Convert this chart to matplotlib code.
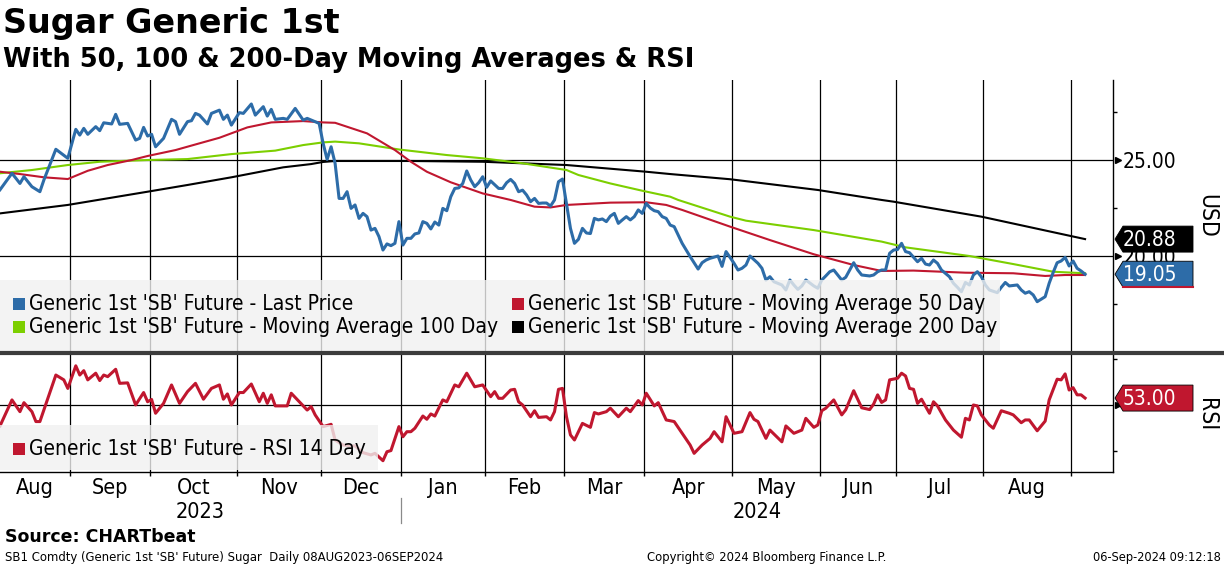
import matplotlib
matplotlib.use("Agg")
import matplotlib.pyplot as plt
import matplotlib.transforms as mtransforms
from matplotlib.patches import Polygon, Rectangle
import pandas as pd

# ---- trading calendar (exchange holidays dropped, like the terminal does)
start_date = "2023-08-08"
end_date = "2024-09-06"
holidays = ["2023-09-04", "2023-11-23", "2023-12-25", "2024-01-01", "2024-01-15",
            "2024-02-19", "2024-03-29", "2024-05-27", "2024-06-19", "2024-07-04",
            "2024-09-02"]

# ---- series (trading day number -> value)
price_day = [0, 3, 5, 6, 8, 10, 11, 14, 17, 19, 20, 21, 22, 24, 25, 26, 28, 29, 30, 32,
             34, 35, 36, 37, 38, 39, 41, 43, 44, 45, 47, 48, 49, 50, 52, 53, 55, 56, 57, 58,
             60, 61, 63, 64, 66, 67, 68, 69, 71, 72, 74, 76, 77, 80, 81, 82, 83, 84, 85, 86,
             87, 88, 89, 90, 91, 92, 93, 94, 95, 96, 97, 98, 99, 100, 101, 102, 103, 104, 105, 106,
             107, 108, 109, 110, 111, 112, 113, 114, 115, 116, 117, 118, 119, 120, 121, 122, 123, 125, 126, 127,
             128, 129, 130, 131, 132, 133, 134, 135, 136, 137, 138, 139, 140, 141, 142, 143, 144, 145, 146, 147,
             148, 149, 150, 151, 152, 153, 154, 155, 156, 157, 158, 159, 160, 161, 162, 163, 164, 165, 166, 167,
             168, 169, 170, 171, 173, 175, 176, 177, 178, 180, 181, 182, 184, 185, 186, 187, 188, 190, 191, 192,
             193, 194, 196, 197, 198, 199, 200, 201, 202, 204, 205, 206, 207, 208, 209, 210, 211, 212, 213, 214,
             215, 216, 218, 219, 220, 221, 222, 223, 224, 225, 226, 227, 228, 230, 231, 232, 233, 234, 235, 236,
             238, 239, 240, 241, 242, 243, 244, 245, 246, 247, 248, 250, 251, 252, 253, 255, 256, 257, 258, 259,
             260, 261, 262, 263, 264, 265, 266, 267, 268, 269, 270, 271, 272]
price = [23.45, 24.31, 23.78, 24.13, 23.61, 23.35, 23.96, 25.56, 25.09, 26.60, 26.30, 26.65, 26.34, 26.74, 26.53, 26.94, 26.88, 27.38, 26.86, 26.91,
         26.04, 26.13, 26.70, 26.25, 26.34, 25.69, 26.13, 27.12, 27.00, 26.34, 27.00, 27.05, 27.43, 27.34, 26.88, 27.43, 27.60, 27.12, 27.34, 26.82,
         27.47, 27.43, 27.92, 27.34, 27.78, 27.29, 27.64, 27.12, 27.17, 27.12, 27.69, 27.08, 27.17, 26.91, 25.87, 25.03, 25.69, 24.83, 23.00, 23.00,
         23.35, 22.48, 22.66, 21.96, 22.22, 22.05, 21.35, 21.44, 21.01, 20.31, 20.63, 20.54, 20.66, 21.79, 20.57, 20.92, 20.92, 21.15, 21.20, 21.79,
         21.70, 21.41, 21.77, 21.61, 22.48, 22.36, 23.09, 23.52, 23.55, 23.78, 24.43, 23.96, 23.61, 23.82, 24.13, 23.58, 23.91, 23.52, 23.52, 23.82,
         23.99, 23.78, 23.35, 23.43, 23.18, 22.83, 23.00, 22.74, 22.76, 22.76, 22.60, 22.92, 23.87, 24.01, 22.74, 21.44, 20.66, 20.87, 21.44, 21.20,
         21.17, 21.96, 21.88, 21.93, 21.79, 22.08, 22.22, 21.70, 21.88, 22.05, 21.88, 22.05, 22.40, 22.22, 22.74, 22.50, 22.36, 22.31, 22.05, 21.96,
         21.61, 21.53, 21.09, 20.66, 19.97, 19.32, 19.65, 19.79, 19.88, 20.00, 19.46, 20.23, 19.62, 19.27, 19.36, 19.53, 20.00, 19.62, 19.36, 18.75,
         18.92, 18.66, 18.49, 18.23, 18.75, 18.49, 18.26, 18.44, 18.75, 18.44, 18.32, 18.75, 18.96, 19.18, 19.27, 19.01, 18.75, 18.89, 19.27, 19.65,
         19.27, 19.01, 18.96, 19.01, 19.18, 19.27, 19.27, 20.14, 20.31, 20.34, 20.66, 20.23, 20.17, 19.70, 19.88, 19.58, 19.53, 19.79, 19.62, 19.27,
         18.92, 18.58, 18.37, 18.14, 18.62, 18.49, 19.01, 19.18, 18.92, 18.49, 18.23, 18.09, 18.37, 18.62, 18.44, 18.49, 18.23, 18.06, 18.14, 17.97,
         17.62, 17.75, 17.88, 18.58, 19.14, 19.65, 19.74, 19.93, 19.48, 19.74, 19.36, 19.22, 19.05]

ma50_day = [0, 5, 11, 17, 22, 27, 33, 37, 44, 50, 55, 62, 68, 76, 81, 84, 92, 99, 103, 107,
            113, 121, 128, 134, 138, 142, 153, 162, 167, 171, 183, 193, 204, 214, 221, 229, 242, 254, 262, 267, 272]
ma50 = [24.39, 24.27, 24.10, 24.01, 24.44, 24.74, 25.00, 25.21, 25.52, 25.87, 26.16, 26.70, 26.96, 27.03, 26.96, 26.94, 26.39, 25.52, 24.91, 24.39,
        23.84, 23.26, 22.92, 22.57, 22.53, 22.66, 22.78, 22.80, 22.66, 22.40, 21.53, 20.83, 20.09, 19.53, 19.22, 19.24, 19.13, 19.10, 18.96, 19.01, 19.01]

ma100_day = [0, 8, 17, 25, 37, 47, 58, 69, 76, 81, 84, 90, 100, 112, 121, 131, 142, 145, 153, 161,
             168, 170, 183, 187, 204, 221, 227, 243, 254, 264, 272]
ma100 = [24.31, 24.48, 24.74, 24.91, 25.00, 25.05, 25.31, 25.49, 25.78, 25.92, 25.96, 25.87, 25.55, 25.26, 25.09, 24.83, 24.48, 24.22, 23.78, 23.40,
         23.09, 22.92, 22.05, 21.84, 21.35, 20.75, 20.45, 20.00, 19.58, 19.18, 19.10]

ma200_day = [0, 17, 37, 47, 58, 71, 78, 81, 84, 103, 121, 142, 162, 168, 183, 205, 221, 224, 246, 272]
ma200 = [22.22, 22.66, 23.35, 23.70, 24.10, 24.62, 24.79, 24.90, 24.95, 24.95, 24.91, 24.74, 24.39, 24.27, 24.00, 23.44, 22.92, 22.83, 22.05, 20.88]

rsi_day = [0, 3, 5, 6, 8, 9, 10, 14, 16, 17, 19, 20, 21, 22, 24, 25, 26, 27, 29, 30,
           32, 34, 36, 37, 38, 39, 41, 43, 45, 47, 49, 51, 53, 55, 56, 57, 58, 60, 61, 63,
           65, 66, 67, 68, 69, 72, 73, 77, 78, 79, 81, 83, 84, 86, 89, 91, 93, 94, 96, 97,
           98, 100, 101, 102, 103, 104, 106, 107, 108, 109, 111, 112, 114, 115, 117, 119, 121, 123, 124, 125,
           126, 128, 129, 130, 131, 133, 134, 135, 137, 138, 139, 140, 141, 142, 143, 144, 146, 148, 149, 150,
           152, 153, 155, 157, 158, 160, 161, 162, 164, 165, 167, 169, 171, 173, 174, 176, 178, 179, 181, 182,
           184, 186, 188, 189, 190, 192, 193, 196, 197, 199, 201, 202, 204, 205, 206, 207, 209, 211, 212, 214,
           216, 218, 219, 220, 221, 222, 223, 225, 226, 227, 228, 229, 230, 231, 233, 234, 235, 237, 239, 241,
           242, 243, 244, 245, 246, 248, 249, 251, 253, 254, 256, 257, 258, 260, 262, 263, 265, 266, 267, 268,
           269, 270, 271, 272]
rsi = [40.9, 52.2, 47.1, 51.0, 47.1, 42.8, 42.8, 63.0, 60.9, 57.2, 67.0, 63.0, 64.9, 60.9, 63.8, 60.6, 63.0, 62.3, 65.5, 59.4,
       59.6, 50.0, 55.4, 51.4, 52.4, 46.4, 50.7, 58.7, 50.7, 55.8, 59.4, 52.5, 57.2, 58.7, 52.5, 54.8, 50.0, 55.4, 55.4, 59.1,
       51.4, 55.1, 50.7, 54.4, 49.6, 49.6, 55.1, 47.8, 49.3, 45.7, 40.6, 41.6, 34.8, 32.6, 32.2, 29.3, 28.3, 29.0, 25.8, 29.7,
       30.2, 40.6, 36.2, 38.4, 38.4, 39.9, 45.2, 43.8, 46.1, 45.2, 52.2, 51.4, 58.7, 57.9, 63.8, 57.9, 58.7, 53.6, 55.8, 52.9,
       52.9, 56.5, 56.8, 51.4, 50.0, 44.9, 47.5, 44.6, 44.9, 43.5, 47.1, 56.8, 57.2, 44.9, 37.0, 34.8, 42.0, 40.3, 46.7, 46.1,
       47.1, 48.6, 44.9, 48.6, 47.1, 51.9, 50.0, 55.1, 49.6, 51.0, 43.5, 42.8, 37.7, 32.6, 29.0, 32.6, 35.5, 38.4, 34.0, 44.9,
       37.7, 38.4, 46.7, 43.8, 42.8, 35.5, 39.1, 34.0, 40.9, 37.7, 39.1, 44.2, 40.3, 41.3, 47.5, 48.6, 52.2, 45.7, 47.9, 56.2,
       48.8, 48.0, 50.4, 54.4, 51.1, 52.2, 60.9, 61.6, 63.8, 62.6, 57.2, 56.8, 50.7, 52.5, 46.4, 51.4, 49.6, 43.5, 39.1, 36.0,
       44.2, 43.5, 50.0, 49.6, 45.7, 41.3, 39.9, 47.5, 46.4, 45.7, 42.3, 43.5, 43.5, 38.8, 43.0, 52.2, 61.2, 60.9, 63.5, 56.5,
       57.5, 54.4, 54.4, 53.0]

last_price = 19.05
last_ma200 = 20.88
last_rsi = 53.00

price_ticks = [20, 25]
price_minor = [17.5, 22.5, 27.5]

names = ["Generic 1st 'SB' Future - Last Price",
         "Generic 1st 'SB' Future - Moving Average 50 Day",
         "Generic 1st 'SB' Future - Moving Average 100 Day",
         "Generic 1st 'SB' Future - Moving Average 200 Day"]
rsi_name = "Generic 1st 'SB' Future - RSI 14 Day"

BLUE = "#2d6ca8"
RED = "#c0172f"
GREEN = "#7ccf00"
FONT = "DejaVu Sans"
TXT = dict(family=FONT, stretch="condensed")

days = pd.bdate_range(start_date, end_date)
days = days[~days.isin(pd.to_datetime(holidays))]
n = len(days)
bounds = [i - 0.5 for i in range(1, n) if days[i].month != days[i - 1].month]
xmax = n + 6

W, H = 1224, 566
fig = plt.figure(figsize=(W / 100, H / 100), dpi=100)
ax1 = fig.add_axes([0, 1 - 351 / H, 1113 / W, 271 / H])
ax2 = fig.add_axes([0, 1 - 472 / H, 1113 / W, 117 / H])

for ax in (ax1, ax2):
    ax.set_xlim(0, xmax)
    for s in ("left", "top", "bottom"):
        ax.spines[s].set_visible(False)
    ax.spines["right"].set_linewidth(1.0)
    for b in bounds:
        ax.axvline(b, color="black", lw=0.9, zorder=1)
    ax.yaxis.tick_right()
    ax.tick_params(axis="y", which="major", length=0, pad=7, labelsize=15)
    ax.tick_params(axis="y", which="minor", length=3, width=1, direction="out")

# ---- price panel
ax1.set_ylim(15.05, 29.17)
ax1.set_yticks(price_ticks)
ax1.set_yticklabels(["%.2f" % v for v in price_ticks], **TXT)
ax1.set_yticks(price_minor, minor=True)
ax1.set_xticks([])
for v in price_ticks:
    ax1.axhline(v, color="black", lw=0.9, zorder=1)
ax1.plot(ma200_day, ma200, color="black", lw=1.5, zorder=3)
ax1.plot(ma100_day, ma100, color=GREEN, lw=1.5, zorder=3)
ax1.plot(ma50_day, ma50, color=RED, lw=1.5, zorder=3)
ax1.plot(price_day, price, color=BLUE, lw=2.2, zorder=4)

# ---- rsi panel
ax2.set_ylim(20.9, 71.7)
ax2.set_yticks([50])
ax2.set_yticklabels([""])
ax2.set_yticks([30, 70], minor=True)
ax2.axhline(50, color="black", lw=0.9, zorder=1)
ax2.plot(rsi_day, rsi, color=RED, lw=2.2, zorder=4)
ax2.spines["bottom"].set_visible(True)
ax2.spines["bottom"].set_linewidth(1.0)

# month ticks at boundaries, labels centred in each full-enough month
ax2.set_xticks(bounds)
ax2.set_xticklabels([])
ax2.tick_params(axis="x", which="major", length=3, width=1, direction="out")
edges = [0] + bounds + [xmax]
centers, mlabels = [], []
for a, b in zip(edges[:-1], edges[1:]):
    if b - a > 12:
        mid = (a + b) / 2
        centers.append(mid)
        mlabels.append(days[min(int(round(mid)), n - 1)].strftime("%b"))
ax2.set_xticks(centers, minor=True)
ax2.set_xticklabels(mlabels, minor=True, fontsize=15.5, **TXT)
ax2.tick_params(axis="x", which="minor", length=0, pad=4)

# year labels and separator
ytrans = mtransforms.blended_transform_factory(ax2.transData, ax2.transAxes)
jan = [b for b in bounds if days[int(b + 0.5)].month == 1][0]
ax2.text(jan / 2, -0.345, str(days[0].year), transform=ytrans, ha="center", va="center",
         fontsize=15.5, **TXT)
ax2.text((jan + xmax) / 2, -0.345, str(days[-1].year), transform=ytrans, ha="center", va="center",
         fontsize=15.5, **TXT)
ax2.plot([jan, jan], [-0.22, -0.44], transform=ytrans, color="#8a8a8a", lw=0.9, clip_on=False)

# ---- arrow heads on major right ticks
for ax, vals in ((ax1, price_ticks), (ax2, [50])):
    tr = mtransforms.blended_transform_factory(ax.transAxes, ax.transData)
    for v in vals:
        ax.plot([1.0045], [v], marker=">", ms=5, color="black", transform=tr, clip_on=False, zorder=6)


# ---- value tags on the right axis
def tag(ax, value, text, color, underline=None):
    base = mtransforms.blended_transform_factory(ax.transAxes, ax.transData)
    tr = fig.dpi_scale_trans + mtransforms.ScaledTranslation(1.0, value, base)
    pts = [(0.02, 0), (0.10, 0.13), (0.80, 0.13), (0.80, -0.13), (0.10, -0.13)]
    ax.add_patch(Polygon(pts, closed=True, transform=tr, facecolor=color,
                         edgecolor="black", lw=0.6, clip_on=False, zorder=10))
    if underline:
        ax.plot([0.10, 0.80], [-0.125, -0.125], transform=tr, color=underline, lw=1.5,
                clip_on=False, zorder=11)
    ax.text(0.10, -0.005, text, transform=tr, ha="left", va="center", color="white",
            fontsize=15, zorder=12, clip_on=False, **TXT)


tag(ax1, last_ma200, "%.2f" % last_ma200, "black")
tag(ax1, last_price, "%.2f" % last_price, BLUE, underline=RED)
tag(ax2, last_rsi, "%.2f" % last_rsi, RED)

# ---- legends (light boxes laid over the lines)
ax1.add_patch(Rectangle((0, 0), 1000 / 1113, 71 / 271, transform=ax1.transAxes,
                        facecolor="#f0f0f0", alpha=0.8, edgecolor="none", zorder=7))
legend_pos = [(0.0, 0.173), (0.4485, 0.173), (0.0, 0.088), (0.4485, 0.088)]
for (lx, ly), name, col in zip(legend_pos, names, [BLUE, RED, GREEN, "black"]):
    ax1.add_patch(Rectangle((lx + 0.0117, ly - 0.022), 0.0108, 0.044, transform=ax1.transAxes,
                            facecolor=col, edgecolor="none", zorder=8))
    ax1.text(lx + 0.026, ly, name, transform=ax1.transAxes, va="center", ha="left",
             fontsize=15, zorder=9, **TXT)

ax2.add_patch(Rectangle((0, 0.017), 378 / 1113, 0.385, transform=ax2.transAxes,
                        facecolor="#f0f0f0", alpha=0.8, edgecolor="none", zorder=7))
ax2.add_patch(Rectangle((0.0117, 0.197 - 0.051), 0.0108, 0.102, transform=ax2.transAxes,
                        facecolor=RED, edgecolor="none", zorder=8))
ax2.text(0.026, 0.197, rsi_name, transform=ax2.transAxes, va="center", ha="left",
         fontsize=15, zorder=9, **TXT)

# ---- panel separator
fig.add_artist(plt.Line2D([0, 1], [1 - 353 / H, 1 - 353 / H], transform=fig.transFigure,
                          color="#3c3c3c", lw=3))

# ---- axis names
fig.text(1207 / W, 1 - 216 / H, "USD", rotation=270, ha="center", va="center", fontsize=16.5, **TXT)
fig.text(1207 / W, 1 - 415 / H, "RSI", rotation=270, ha="center", va="center", fontsize=16.5, **TXT)

# ---- titles and footer
fig.text(3 / W, 1 - 23 / H, "Sugar Generic 1st", ha="left", va="center", fontsize=24,
         weight="bold", family=FONT)
fig.text(3 / W, 1 - 60 / H, "With 50, 100 & 200-Day Moving Averages & RSI", ha="left", va="center",
         fontsize=18.5, weight="bold", family=FONT)
fig.text(5 / W, 1 - 537 / H, "Source: CHARTbeat", ha="left", va="center", fontsize=12.5,
         weight="bold", family=FONT)
fig.text(5 / W, 1 - 557 / H, "SB1 Comdty (Generic 1st 'SB' Future) Sugar  Daily 08AUG2023-06SEP2024",
         ha="left", va="center", fontsize=9.4, **TXT)
fig.text(767 / W, 1 - 557 / H, "Copyright\u00a9 2024 Bloomberg Finance L.P.", ha="center", va="center",
         fontsize=9.3, **TXT)
fig.text(1221 / W, 1 - 557 / H, "06-Sep-2024 09:12:18", ha="right", va="center", fontsize=9.2, **TXT)

fig.savefig("out.png", dpi=100)
